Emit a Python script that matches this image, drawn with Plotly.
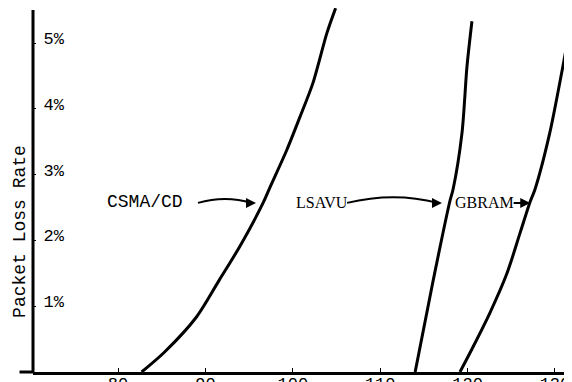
import plotly.graph_objects as go

# ---- data ----
csma_x = [82.7, 85.3, 89.0, 91.6, 93.9, 96.6, 97.4, 99.3, 100.8, 102.3, 103.9, 104.9]
csma_y = [0.0, 0.30, 0.84, 1.40, 1.90, 2.57, 2.81, 3.37, 3.87, 4.39, 5.15, 5.53]

lsavu_x = [114.0, 116.0, 118.0, 118.33, 119.36, 119.93, 120.5]
lsavu_y = [0.0, 1.35, 2.61, 2.77, 3.63, 4.64, 5.33]

gbram_x = [119.13, 120.62, 122.56, 124.51, 126.0, 127.14, 127.7, 129.4, 130.9, 131.95]
gbram_y = [0.0, 0.38, 0.90, 1.50, 2.11, 2.58, 2.77, 3.63, 4.64, 5.40]

x_ticks = [80, 90, 100, 110, 120, 130]
y_ticks = [1, 2, 3, 4, 5]
y_tick_labels = ["1%", "2%", "3%", "4%", "5%"]
series_names = ["CSMA/CD", "LSAVU", "GBRAM"]
y_title = "Packet Loss Rate"

X_RANGE = [70.27, 131.95]
Y_RANGE = [0.0, 5.532]

fig = go.Figure()
for xs, ys, nm in [(csma_x, csma_y, series_names[0]),
                   (lsavu_x, lsavu_y, series_names[1]),
                   (gbram_x, gbram_y, series_names[2])]:
    fig.add_trace(go.Scatter(x=xs, y=ys, mode="lines", name=nm,
                             line=dict(color="black", width=3, shape="spline", smoothing=0.8),
                             showlegend=False, cliponaxis=True))

mono = "Liberation Mono, Courier New, monospace"
serif = "Liberation Serif, Times New Roman, serif"

# the page body has an 8px margin, so the figure is 8px smaller and shifted
fig.update_layout(
    width=564, height=374, autosize=False,
    margin=dict(l=25, r=0, t=0, b=10, autoexpand=False),
    paper_bgcolor="white", plot_bgcolor="white",
    xaxis=dict(range=X_RANGE, showgrid=False, zeroline=False, showline=True,
               linecolor="black", linewidth=3, tickvals=x_ticks, automargin=False,
               ticks="inside", ticklen=4, tickcolor="black", tickwidth=1,
               ticklabelstandoff=-6,
               tickfont=dict(family=mono, size=17, color="black")),
    yaxis=dict(range=Y_RANGE, showgrid=False, zeroline=False, showline=False,
               tickvals=y_ticks, ticktext=y_tick_labels, automargin=False,
               ticks="inside", ticklen=3, tickcolor="black", tickwidth=1,
               ticklabelposition="inside", ticklabelstandoff=8, ticklabelshift=-5,
               tickfont=dict(family=mono, size=17, color="black")),
)

# axis lines
fig.add_shape(type="line", xref="paper", yref="paper", x0=0, x1=0, y0=0, y1=0.9945,
              line=dict(color="black", width=3))
fig.add_shape(type="line", xref="paper", yref="paper", x0=-0.025, x1=0, y0=0, y1=0,
              line=dict(color="black", width=3))

# y title
fig.add_annotation(text=y_title, xref="paper", yref="paper", x=-0.024, y=0.385,
                   textangle=-90, showarrow=False, xanchor="center", yanchor="middle",
                   font=dict(family=mono, size=18, color="black"))

# labels with arrows
fig.add_annotation(text=series_names[0], x=83.09, y=2.58, showarrow=False,
                   font=dict(family=mono, size=18, color="black"))
fig.add_annotation(text=series_names[1], x=103.34, y=2.57, showarrow=False,
                   font=dict(family=serif, size=16, color="black"))
fig.add_annotation(text=series_names[2], x=121.93, y=2.57, showarrow=False,
                   font=dict(family=serif, size=16, color="black"))

# curved arrow shafts
fig.add_shape(type="path", path="M 89.15,2.57 Q 92.24,2.69 95.3,2.57",
              line=dict(color="black", width=2))
fig.add_shape(type="path", path="M 106.21,2.57 Q 111.58,2.74 116.6,2.57",
              line=dict(color="black", width=2))
# arrowheads
for tip_x, tail_x in [(95.79, 94.6), (117.07, 115.9), (127.17, 125.1)]:
    fig.add_annotation(x=tip_x, y=2.57, ax=tail_x, ay=2.57, axref="x", ayref="y",
                       showarrow=True, arrowhead=2, arrowsize=1, arrowwidth=2,
                       arrowcolor="black", text="")

fig.write_html("out.html")
